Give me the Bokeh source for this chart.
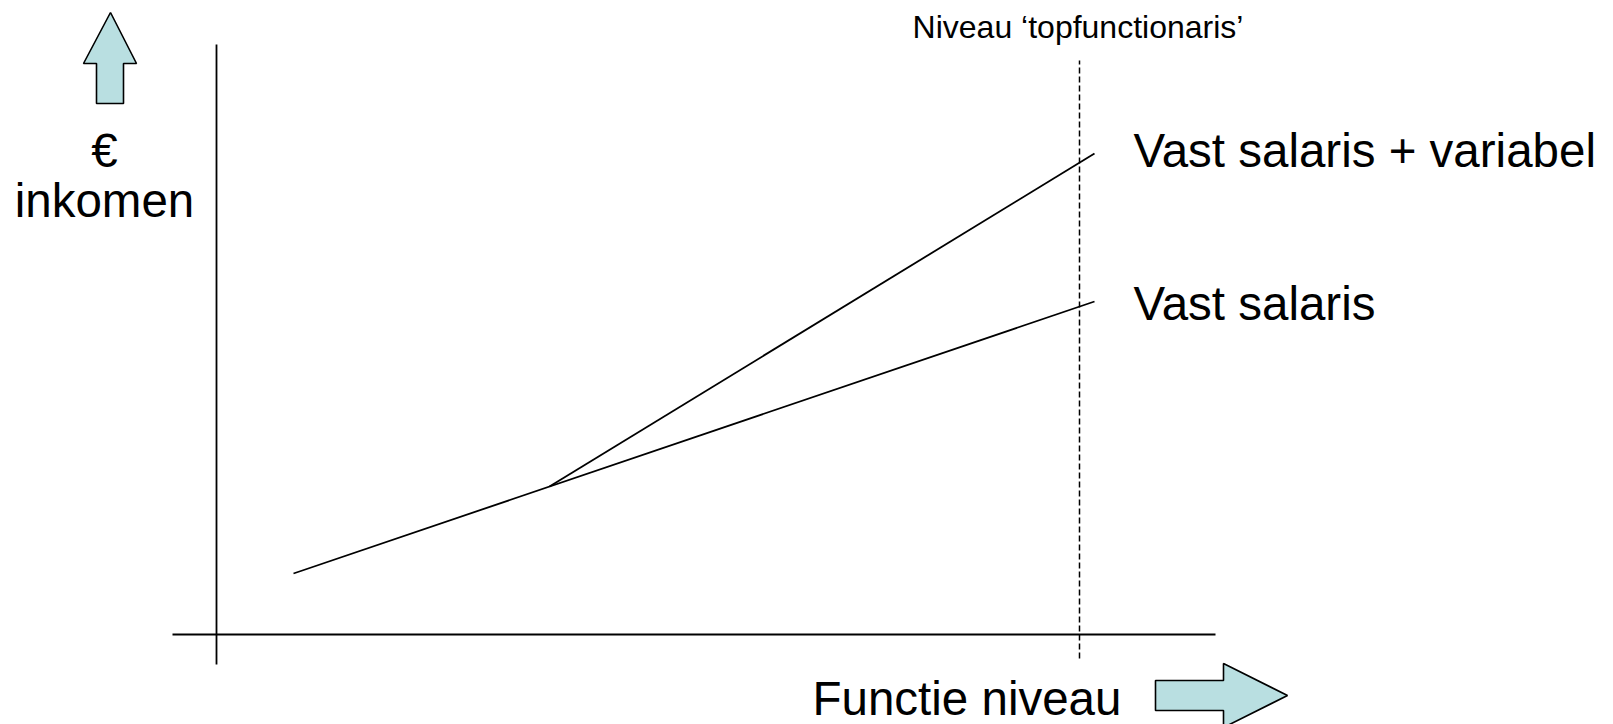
from bokeh.plotting import figure
from bokeh.models import Range1d
from bokeh.core.properties import value
from bokeh.embed import file_html
from bokeh.resources import INLINE

# Conceptual data (function level on x, income on y)
fixed_level = [77, 878]
fixed_income = [61, 333]
variable_level = [333, 878]
variable_income = [148, 481]
top_level = 863
top_label = "Niveau \u2018topfunctionaris\u2019"
series_labels = ["Vast salaris + variabel", "Vast salaris"]
x_title = "Functie niveau"
y_title = ["\u20ac", "inkomen"]

W, H = 1613, 724
p = figure(width=W, height=H, output_backend="svg", toolbar_location=None,
           x_range=Range1d(-216, 1397), y_range=Range1d(-90, 634),
           x_axis_type=None, y_axis_type=None, min_border=0,
           outline_line_color=None, background_fill_color="white",
           border_fill_color="white")
p.grid.visible = False

FONT = value("Liberation Sans")
ARROW_FILL = "#B9DFE1"

# axes
p.line([-44, 999], [0, 0], line_color="black", line_width=2)
p.line([0, 0], [-30, 590], line_color="black", line_width=1.8)

# top level dashed line
p.line([top_level, top_level], [-24, 574], line_color="black", line_width=1.5, line_dash="6 3")

# series
p.line(fixed_level, fixed_income, line_color="black", line_width=1.8)
p.line(variable_level, variable_income, line_color="black", line_width=1.8)

# arrows
p.patch([-106, -80, -93, -93, -120, -120, -133],
        [622, 571, 571, 531, 531, 571, 571],
        fill_color=ARROW_FILL, line_color="black", line_width=1.6)
p.patch([939, 1007, 1007, 1071, 1007, 1007, 939],
        [-46, -46, -29, -61, -93, -76, -76],
        fill_color=ARROW_FILL, line_color="black", line_width=1.6)

# texts (anchored at their vertical middle)
common = dict(text_font=FONT, text_baseline="middle", text_color="black",
              text_line_height=1.0)
p.text(x=[top_level - 1.5], y=[607.5], text=[top_label],
       text_font_size="32px", text_align="center", **common)
p.text(x=[917, 917], y=[484, 331], text=series_labels,
       text_font_size="47.5px", text_align="left", **common)
p.text(x=[-112, -112], y=[484, 434], text=y_title,
       text_font_size="47.5px", text_align="center", **common)
p.text(x=[596], y=[-64], text=[x_title],
       text_font_size="47.5px", text_align="left", **common)

open("out.html", "w").write(file_html(p, INLINE))
